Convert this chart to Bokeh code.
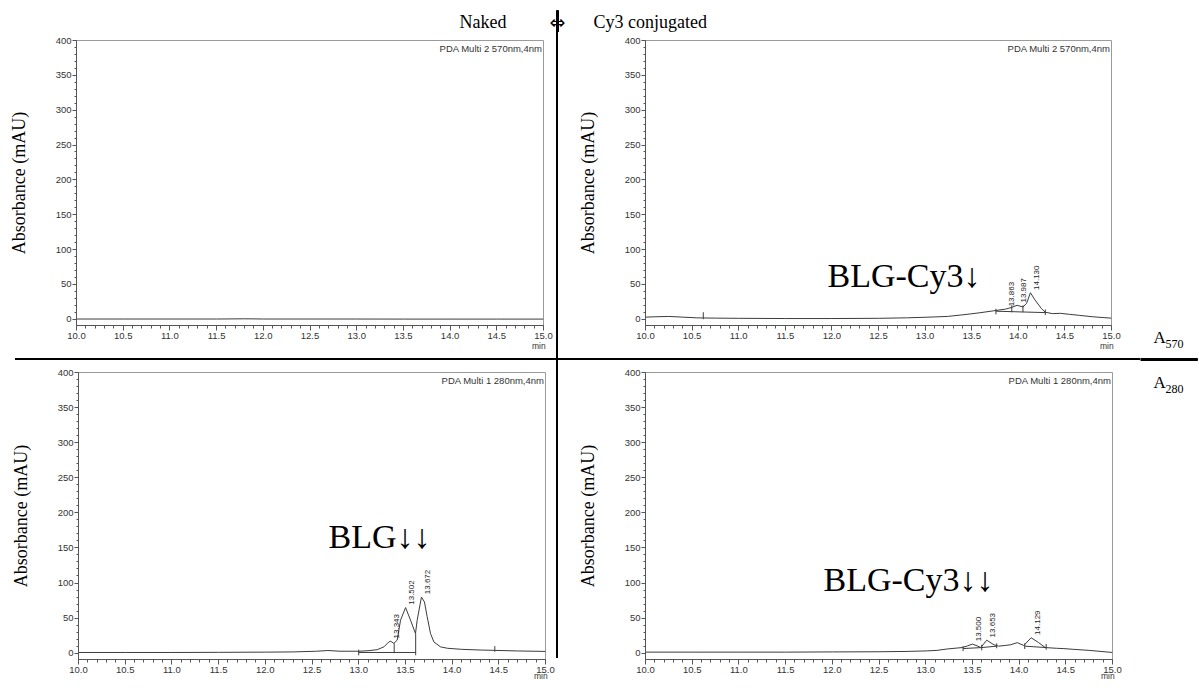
import numpy as np
from bokeh.plotting import figure
from bokeh.layouts import column, row
from bokeh.models import (Range1d, SingleIntervalTicker, PrintfTickFormatter, FixedTicker,
                          CustomJSTickFormatter, LinearAxis, Label, Div)
from bokeh.core.properties import value
from bokeh.embed import file_html
from bokeh.resources import INLINE

# ---------------------------------------------------------------- data
# Retention time (min) and absorbance (mAU) of each chromatogram.

# Naked BLG, PDA 570 nm
naked570_t = [10.0, 10.5, 11.0, 11.5, 11.8, 11.9, 12.0, 12.5, 13.0, 13.5, 14.0, 14.5, 15.0]
naked570_a = [0.3, 0.3, 0.3, 0.3, 0.6, 0.5, 0.3, 0.3, 0.3, 0.2, 0.2, 0.2, 0.2]

# Cy3 conjugated BLG, PDA 570 nm
cy570_t = [10.00, 10.10, 10.25, 10.40, 10.55, 10.62, 10.75, 11.00, 11.50, 12.00,
           12.50, 12.80, 13.00, 13.24, 13.45, 13.60, 13.73, 13.863, 13.93, 13.987,
           14.05, 14.09, 14.130, 14.18, 14.25, 14.29, 14.37, 14.45, 14.55, 14.66,
           14.80, 15.00]
cy570_a = [3.0, 3.5, 4.0, 3.0, 2.0, 1.8, 1.6, 1.3, 1.0, 1.0,
           1.3, 2.0, 2.8, 4.0, 7.0, 9.5, 12.0, 14.5, 17.0, 20.0,
           17.5, 23.0, 38.0, 27.5, 15.0, 10.0, 8.0, 8.5, 7.0, 5.5,
           3.5, 1.5]

# Naked BLG, PDA 280 nm
naked280_t = [10.0, 10.5, 11.0, 11.5, 12.0, 12.3, 12.55, 12.67, 12.8, 13.0,
              13.1, 13.198, 13.27, 13.322, 13.343, 13.376, 13.412, 13.448, 13.502, 13.555,
              13.608, 13.626, 13.672, 13.704, 13.733, 13.769, 13.805, 13.876, 13.95, 14.1,
              14.3, 14.457, 14.7, 15.0]
naked280_a = [1.0, 1.0, 1.0, 1.2, 1.5, 1.8, 2.8, 3.8, 2.8, 2.8,
              3.5, 5.0, 9.0, 16.0, 17.0, 14.0, 18.5, 47.0, 65.0, 47.0,
              28.0, 47.0, 80.0, 73.0, 52.0, 28.0, 16.0, 9.0, 7.0, 5.5,
              4.5, 4.0, 3.2, 2.5]

# Cy3 conjugated BLG, PDA 280 nm
cy280_t = [10.0, 10.5, 11.0, 11.5, 12.0, 12.48, 12.8, 13.02, 13.12, 13.23,
           13.39, 13.45, 13.50, 13.55, 13.59, 13.653, 13.73, 13.78, 13.85, 13.91,
           13.98, 14.05, 14.129, 14.21, 14.28, 14.40, 14.48, 14.58, 14.75, 15.0]
cy280_a = [1.5, 1.5, 1.5, 1.5, 1.8, 2.0, 2.5, 3.3, 4.0, 6.0,
           8.0, 10.5, 13.0, 10.5, 8.0, 18.5, 12.0, 10.0, 11.0, 12.0,
           15.0, 11.0, 22.0, 15.0, 8.0, 7.0, 6.5, 5.5, 4.0, 1.0]

# Integrated peaks: retention time and apex height
cy570_peak_t = [13.863, 13.987, 14.130]
cy570_peak_a = [14.5, 20.0, 38.0]
naked280_peak_t = [13.343, 13.502, 13.672]
naked280_peak_a = [17.0, 65.0, 80.0]
cy280_peak_t = [13.500, 13.653, 14.129]
cy280_peak_a = [13.0, 18.5, 22.0]

# Integration baselines (t0, a0, t1, a1) and peak start/end marks (t, a_low, a_high)
cy570_base = [(13.76, 11.5, 14.29, 9.5)]
cy570_marks = [(10.62, 0.0, 10.0), (13.76, 7.0, 15.0), (13.93, 10.0, 20.0),
               (14.05, 10.0, 20.0), (14.29, 6.0, 14.0)]
naked280_base = [(13.0, 1.0, 13.61, 1.0), (13.38, 0.0, 13.38, 14.0), (13.61, -3.0, 13.61, 28.0)]
naked280_marks = [(13.0, -3.0, 5.0), (14.457, 2.0, 10.0)]
cy280_base = [(13.40, 6.6, 13.60, 8.0), (13.60, 8.0, 13.76, 10.0), (14.06, 10.0, 14.29, 8.0)]
cy280_marks = [(13.40, 3.0, 10.0), (13.60, 4.0, 12.0), (13.76, 7.0, 14.0),
               (14.06, 6.0, 14.0), (14.29, 5.0, 13.0)]

channel_570 = "PDA Multi 2 570nm,4nm"
channel_280 = "PDA Multi 1 280nm,4nm"
col_headers = ["Naked", "\u21d4", "Cy3 conjugated"]
row_labels = [("A", "570"), ("A", "280")]

# ---------------------------------------------------------------- layout
# page origin (ox, oy), canvas size (w, h), frame borders and the standoff
# of the "min" unit label of each panel, px
PANELS = {
    "tl": dict(ox=0, oy=32, w=556, h=326, left=76, right=13, top=8, bottom=33, unit=-1),
    "tr": dict(ox=558, oy=32, w=582, h=326, left=87, right=29, top=8, bottom=33, unit=-1),
    "bl": dict(ox=0, oy=360, w=556, h=328, left=78, right=11, top=12, bottom=29, unit=-5),
    "br": dict(ox=558, oy=360, w=582, h=328, left=87, right=28, top=12, bottom=29, unit=-5),
}

SERIF = "Liberation Serif"
SANS = "Liberation Sans"
TRACE = "#3c3c3c"
AXIS = "#555555"


def frame_xy(spec, gx, gy):
    """Page pixel position -> screen units of a panel (frame bottom-left origin)."""
    fx = gx - spec["ox"] - spec["left"]
    fy = (spec["oy"] + spec["h"] - spec["bottom"]) - gy
    return fx, fy


def callout(p, spec, gx, gy, text, size="34px"):
    fx, fy = frame_xy(spec, gx, gy)
    p.add_layout(Label(x=fx, y=fy, x_units="screen", y_units="screen", text=text,
                       text_font=SERIF, text_font_size=size, text_color="black",
                       text_align="left", text_baseline="middle"))


def sheet(x0, x1, y0, y1):
    """Blank figure whose data space is page pixels (y downwards)."""
    p = figure(width=x1 - x0, height=y1 - y0, title=None,
               x_range=Range1d(x0, x1), y_range=Range1d(y1, y0),
               output_backend="svg", toolbar_location=None,
               x_axis_location=None, y_axis_location=None,
               min_border=0, min_border_left=0, min_border_right=0,
               min_border_top=0, min_border_bottom=0)
    p.grid.visible = False
    p.outline_line_color = None
    p.background_fill_color = "white"
    p.border_fill_color = "white"
    return p


def divider(width, height, background):
    return Div(text="", width=width, height=height, margin=0,
               styles={"background": background})


def panel(key, t, a, channel, peaks=None, base=None, marks=None):
    s = PANELS[key]
    p = figure(width=s["w"], height=s["h"], title=None,
               x_range=Range1d(10.0, 15.0), y_range=Range1d(-9, 400),
               output_backend="svg", toolbar_location=None,
               min_border_left=s["left"], min_border_right=s["right"],
               min_border_top=s["top"], min_border_bottom=s["bottom"])
    p.grid.visible = False
    p.outline_line_color = "#9a9a9a"
    p.background_fill_color = "white"
    p.border_fill_color = "white"

    xa = p.xaxis[0]
    xa.ticker = SingleIntervalTicker(interval=0.5, num_minor_ticks=5)
    xa.formatter = PrintfTickFormatter(format="%.1f")
    ya = p.yaxis[0]
    ya.ticker = SingleIntervalTicker(interval=50, num_minor_ticks=5)
    for ax in (xa, ya):
        ax.axis_line_color = AXIS
        ax.major_tick_line_color = AXIS
        ax.minor_tick_line_color = AXIS
        ax.major_tick_in = 0
        ax.minor_tick_in = 0
        ax.major_label_text_font = SANS
        ax.major_label_text_font_size = "9.5px"
        ax.major_label_text_color = "#333333"
    xa.major_tick_out = 5
    xa.minor_tick_out = 3
    xa.major_label_standoff = 2
    ya.major_tick_out = 4
    ya.minor_tick_out = 2
    ya.major_label_standoff = 1
    ya.axis_label = "Absorbance (mAU)"
    ya.axis_label_text_font = SERIF
    ya.axis_label_text_font_size = "18px"
    ya.axis_label_text_font_style = "normal"
    ya.axis_label_text_color = "black"
    ya.axis_label_standoff = 24

    # time unit printed under the right end of the time axis
    unit = LinearAxis(ticker=FixedTicker(ticks=[14.95]),
                      formatter=CustomJSTickFormatter(code="return 'min'"),
                      axis_line_color=None, major_tick_line_color=None,
                      minor_tick_line_color=None, major_tick_in=0, major_tick_out=0,
                      minor_tick_in=0, minor_tick_out=0, major_label_standoff=s["unit"],
                      major_label_text_font=SANS, major_label_text_font_size="8.5px",
                      major_label_text_color="#333333")
    p.add_layout(unit, "below")

    p.line(t, a, line_color=TRACE, line_width=1)

    if base:
        bx0, by0, bx1, by1 = zip(*base)
        p.segment(bx0, by0, bx1, by1, line_color=TRACE, line_width=1)
    if marks:
        mt, m0, m1 = zip(*marks)
        p.segment(mt, m0, mt, m1, line_color=TRACE, line_width=1)
    if peaks:
        pt, pa = peaks
        p.text(x=list(pt), y=[v + 4 for v in pa], text=[f"{v:.3f}" for v in pt],
               angle=np.pi / 2, x_offset=6, text_align="left", text_baseline="middle",
               text_font=value(SANS), text_font_size=value("8px"), text_color="#222222")

    p.add_layout(Label(x=15.0, y=400, text=channel, x_offset=-1, y_offset=-2,
                       text_align="right", text_baseline="top", text_font=SANS,
                       text_font_size="9.5px", text_color="#333333"))
    return p


tl = panel("tl", naked570_t, naked570_a, channel_570)
tr = panel("tr", cy570_t, cy570_a, channel_570,
           peaks=(cy570_peak_t, cy570_peak_a), base=cy570_base, marks=cy570_marks)
bl = panel("bl", naked280_t, naked280_a, channel_280,
           peaks=(naked280_peak_t, naked280_peak_a), base=naked280_base, marks=naked280_marks)
br = panel("br", cy280_t, cy280_a, channel_280,
           peaks=(cy280_peak_t, cy280_peak_a), base=cy280_base, marks=cy280_marks)

S = PANELS
callout(tr, S["tr"], 827, 274.5, "BLG-Cy3\u2193")
callout(bl, S["bl"], 328, 535.5, "BLG\u2193\u2193")
callout(br, S["br"], 823, 578.5, "BLG-Cy3\u2193\u2193")

# column headers with the start of the vertical divider
head = sheet(0, 1140, 0, 32)
head.text(x=[459], y=[21], text=[col_headers[0]], text_align="left", text_baseline="middle",
          text_font=value(SERIF), text_font_size=value("18px"), text_color="black")
head.text(x=[557], y=[21], text=[col_headers[1]], text_align="center", text_baseline="middle",
          text_font=value("DejaVu Sans"), text_font_size=value("19px"), text_color="black")
head.text(x=[593], y=[21], text=[col_headers[2]], text_align="left", text_baseline="middle",
          text_font=value(SERIF), text_font_size=value("18px"), text_color="black")
head.quad(left=[556], right=[558], top=[10], bottom=[32], color="black")

# vertical divider between the two columns, horizontal one between wavelengths
vtop = divider(2, 326, "black")
vbot = divider(2, 328, "linear-gradient(to bottom, black 0px, black 298px, white 298px)")
hsep = divider(1140, 2, "linear-gradient(to right, white 0px, white 15px, black 15px)")

# wavelength tags on the right margin
side = sheet(1140, 1199, 0, 688)
side.quad(left=[1140], right=[1197], top=[358], bottom=[360], color="black")
side.text(x=[1153, 1153], y=[337, 382], text=[r[0] for r in row_labels],
          text_align="left", text_baseline="middle",
          text_font=value(SERIF), text_font_size=value("17px"), text_color="black")
side.text(x=[1165, 1165], y=[343, 388], text=[r[1] for r in row_labels],
          text_align="left", text_baseline="middle",
          text_font=value(SERIF), text_font_size=value("12px"), text_color="black")

layout = row(
    column(head, row(tl, vtop, tr), hsep, row(bl, vbot, br)),
    side,
)
open("out.html", "w").write(file_html(layout, INLINE))
